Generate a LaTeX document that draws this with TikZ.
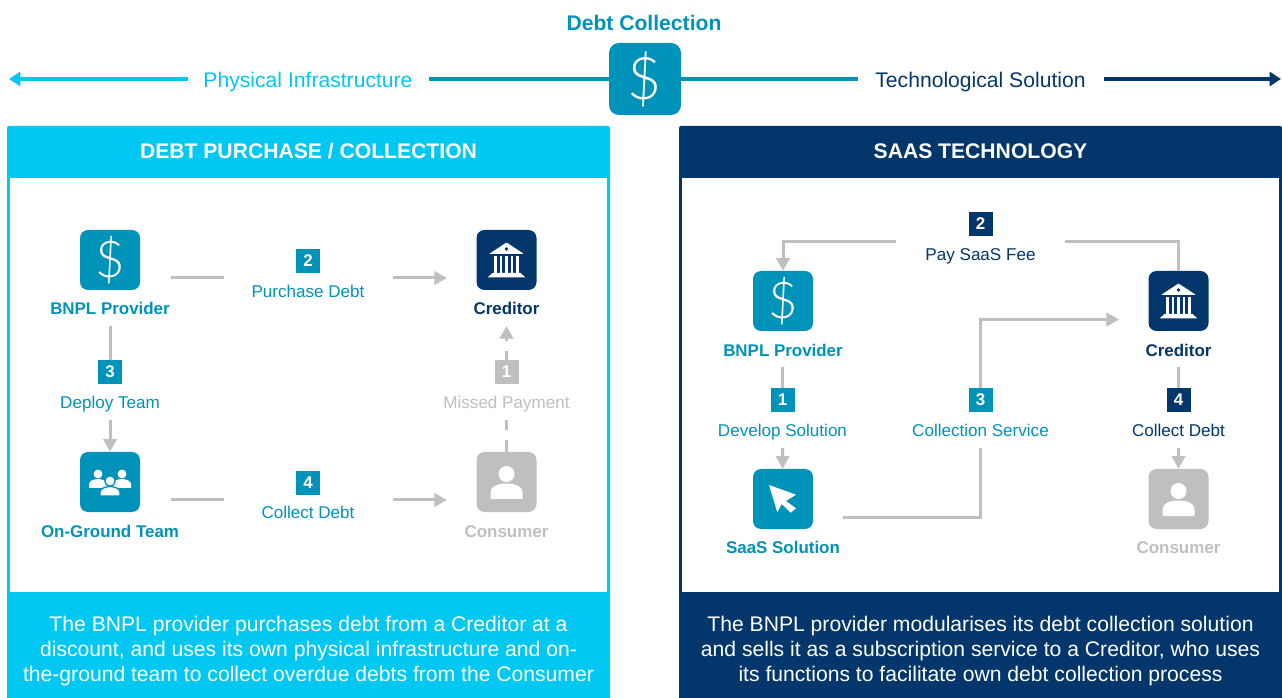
\documentclass[tikz,border=0pt]{standalone}
\usepackage{fontspec}
\setmainfont{Liberation Sans}
\newfontfamily\thinfont{Lato Light}
\usetikzlibrary{arrows.meta}
\definecolor{skyc}{HTML}{00C8F2}
\definecolor{tealc}{HTML}{0093BA}
\definecolor{navyc}{HTML}{03376B}
\definecolor{greyc}{HTML}{BFBFBF}
\newcommand{\bodyfont}{\fontsize{12.8}{15}\selectfont}
\newcommand{\boldfont}{\fontsize{12.7}{15}\selectfont\bfseries}
\newcommand{\bigfont}{\fontsize{15.85}{18.75}\selectfont}
\newcommand{\dollar}{\thinfont\fontsize{38}{38}\selectfont\$}
\tikzset{
  icon/.style={rectangle,rounded corners=6pt,minimum size=45pt,inner sep=0pt,text=white},
  badge/.style={rectangle,minimum size=18pt,inner sep=0pt,text=white,font=\boldfont},
  lab/.style={inner sep=0pt,font=\bodyfont},
  tag/.style={inner sep=0pt,font=\boldfont},
  flow/.style={greyc,line width=2.25pt},
  flowtip/.style={flow,-{Triangle[width=10pt,length=9.5pt]}},
  axis/.style={line width=3.2pt},
  axistip/.style={axis,-{Triangle[width=10.5pt,length=8.5pt]}},
  pics/bank/.style={code={
    \fill[white,rounded corners=0.6pt] (0,-17.5) -- (17.5,-6) -- (-17.5,-6) -- cycle;
    \fill[navyc] (0,-11) circle (1.8);
    \foreach \cx in {-11,-5.5,0,5.5,11} {\fill[white] (\cx-1.4,-4) rectangle (\cx+1.4,13.5);}
    \fill[white] (-14,13) -- (14,13) -- (19,17.5) -- (-19,17.5) -- cycle;
  }},
  pics/person/.style={code={
    \fill[white] (0,-8) circle (8);
    \fill[white] (-16,17) -- (-16,10) .. controls (-16,4) and (-8,1.5) .. (0,1.5)
      .. controls (8,1.5) and (16,4) .. (16,10) -- (16,17) -- cycle;
  }},
  pics/crowd/.style={code={
    \foreach \cx in {-12,12} {
      \fill[white] (\cx,-8) circle (4.4);
      \fill[white] (\cx-9,6) -- (\cx-9,2) .. controls (\cx-9,-1) and (\cx-4,-3) .. (\cx,-3)
        .. controls (\cx+4,-3) and (\cx+9,-1) .. (\cx+9,2) -- (\cx+9,6) -- cycle;
    }
    \fill[white,draw=tealc,line width=1pt] (0,-1) circle (5.2);
    \fill[white,draw=tealc,line width=1pt] (-10,14) -- (-10,10) .. controls (-10,6.5) and (-4,4.5) .. (0,4.5)
      .. controls (4,4.5) and (10,6.5) .. (10,10) -- (10,14) -- cycle;
  }},
  pics/cursor/.style={code={
    \fill[white] (-14,-14) -- (13,-4.3) -- (3,2) -- (13,9.3) -- (7.7,13.7)
      -- (-1.3,5) -- (-5.7,13.3) -- cycle;
  }}
}
\begin{document}
\begin{tikzpicture}[x=0.75pt,y=-0.75pt]
  \useasboundingbox (0,0) rectangle (1282,698);
  \fill[skyc,rounded corners=1.5pt] (7,126) rectangle (610,704);
  \fill[navyc,rounded corners=1.5pt] (679,126) rectangle (1282,704);
  \fill[white] (10,178) rectangle (607,592);
  \fill[white] (682,178) rectangle (1279,592);
  \draw
    (644,23) node[tag,text=tealc,font=\bigfont\bfseries] (title){Debt Collection}
    (645,79) node[icon,fill=tealc,minimum size=54pt,rounded corners=7.5pt] (hub){\thinfont\fontsize{44}{44}\selectfont\$}
    (308,82) node[lab,text=skyc,font=\bigfont] (phys){Physical Infrastructure}
    (980.5,82) node[lab,text=navyc,font=\bigfont] (tech){Technological Solution}
    (308.5,151.5) node[inner sep=0pt,text=white,font=\bigfont\bfseries] (headA){DEBT PURCHASE / COLLECTION}
    (980.5,151.5) node[inner sep=0pt,text=white,font=\bigfont\bfseries] (headB){SAAS TECHNOLOGY}
    (308.5,651) node[inner sep=0pt,text=white,font=\bigfont,align=center] (textA){The BNPL provider purchases debt from a Creditor at a\\discount, and uses its own physical infrastructure and on-\\the-ground team to collect overdue debts from the Consumer}
    (980.5,651) node[inner sep=0pt,text=white,font=\bigfont,align=center] (textB){The BNPL provider modularises its debt collection solution\\and sells it as a subscription service to a Creditor, who uses\\its functions to facilitate own debt collection process};
  \draw
    (9,79) coordinate (axL)
    (188,79) coordinate (axLa)
    (429,79) coordinate (axLb)
    (858,79) coordinate (axRa)
    (1104,79) coordinate (axRb)
    (1281,79) coordinate (axR);
  \begin{scope}
    \draw[axistip,skyc] (axLa) to (axL);
    \draw[axis,tealc] (axLb) to (hub);
    \draw[axis,tealc] (hub) to (axRa);
    \draw[axistip,navyc] (axRb) to (axR);
  \end{scope}
  \draw
    (110,260) node[icon,fill=tealc] (provA){\dollar}
    (110,482) node[icon,fill=tealc] (teamA){}
    (506.5,260) node[icon,fill=navyc] (credA){}
    (506.5,482) node[icon,fill=greyc] (consA){}
    (110,308) node[tag,text=tealc] (provAn){BNPL Provider}
    (110,531) node[tag,text=tealc] (teamAn){On-Ground Team}
    (506.5,308) node[tag,text=navyc] (credAn){Creditor}
    (506.5,531.5) node[tag,text=greyc] (consAn){Consumer}
    (506.5,372) node[badge,fill=greyc] (a1){1}
    (308,261) node[badge,fill=tealc] (a2){2}
    (110,372) node[badge,fill=tealc] (a3){3}
    (308,483) node[badge,fill=tealc] (a4){4}
    (506.5,404) node[lab,text=greyc] (a1n){Missed Payment}
    (308,291) node[lab,text=tealc] (a2n){Purchase Debt}
    (110,404) node[lab,text=tealc] (a3n){Deploy Team}
    (308,512) node[lab,text=tealc] (a4n){Collect Debt};
  \path (credA) pic {bank} (consA) pic {person} (teamA) pic {crowd};
  \draw
    (171,278) coordinate (a2s)
    (224,278) coordinate (a2e)
    (393,278) coordinate (a2f)
    (447,278) coordinate (a2t)
    (171,500) coordinate (a4s)
    (224,500) coordinate (a4e)
    (393,500) coordinate (a4f)
    (447,500) coordinate (a4t)
    (110,326) coordinate (a3s)
    (110,420) coordinate (a3f)
    (506.5,326) coordinate (a1t)
    (506.5,420) coordinate (a1f);
  \begin{scope}
    \draw[flow] (a2s) to (a2e);
    \draw[flowtip] (a2f) to (a2t);
    \draw[flow] (a4s) to (a4e);
    \draw[flowtip] (a4f) to (a4t);
    \draw[flow] (a3s) to (a3);
    \draw[flowtip] (a3f) to (teamA);
    \draw[flow,dash pattern=on 9pt off 7.5pt] (consA) to (a1f);
    \draw[flowtip,dash pattern=on 6.75pt off 7.5pt] (a1) to (a1t);
  \end{scope}
  \draw
    (783,301) node[icon,fill=tealc] (provB){\dollar}
    (783,499) node[icon,fill=tealc] (saasB){}
    (1178.5,301) node[icon,fill=navyc] (credB){}
    (1178.5,499) node[icon,fill=greyc] (consB){}
    (783,350) node[tag,text=tealc] (provBn){BNPL Provider}
    (783,547) node[tag,text=tealc] (saasBn){SaaS Solution}
    (1178.5,350) node[tag,text=navyc] (credBn){Creditor}
    (1178.5,547.5) node[tag,text=greyc] (consBn){Consumer}
    (782.5,400) node[badge,fill=tealc] (b1){1}
    (980.5,224) node[badge,fill=navyc] (b2){2}
    (980.5,400) node[badge,fill=tealc] (b3){3}
    (1178.5,400) node[badge,fill=navyc] (b4){4}
    (782.5,432) node[lab,text=tealc] (b1n){Develop Solution}
    (980.5,256) node[lab,text=navyc] (b2n){Pay SaaS Fee}
    (980.5,430) node[lab,text=tealc] (b3n){Collection Service}
    (1178.5,430) node[lab,text=navyc] (b4n){Collect Debt};
  \path (credB) pic {bank} (consB) pic {person} (saasB) pic {cursor};
  \draw
    (782.5,367) coordinate (b1s)
    (782.5,448) coordinate (b1f)
    (1178.5,367) coordinate (b4s)
    (1178.5,448) coordinate (b4f)
    (896,242) coordinate (b2f)
    (1065,242) coordinate (b2e)
    (843,517) coordinate (b3s)
    (980.5,448) coordinate (b3e)
    (1119,319.5) coordinate (b3t);
  \begin{scope}
    \draw[flow] (b1s) to (b1);
    \draw[flowtip] (b1f) to (saasB);
    \draw[flow] (b4s) to (b4);
    \draw[flowtip] (b4f) to (consB);
    \draw[flow] (credB.north) |- (b2e);
    \draw[flowtip] (b2f) -| (provB.north);
    \draw[flow] (b3s) -| (b3e);
    \draw[flowtip] (b3) |- (b3t);
  \end{scope}
\end{tikzpicture}
\end{document}
